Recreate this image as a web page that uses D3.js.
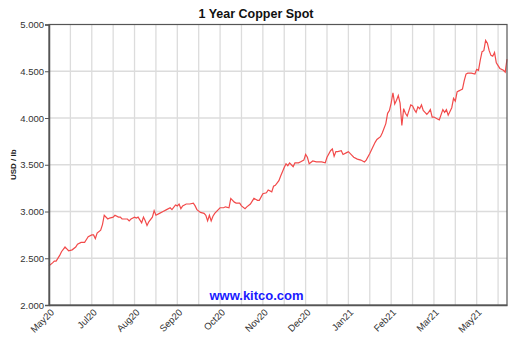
<!DOCTYPE html>
<html><head><meta charset="utf-8">
<script src="https://cdn.jsdelivr.net/npm/d3@7"></script>
<style>body{margin:0;background:#fff}svg{display:block}</style>
</head><body>
<script>
// trading-day index and copper spot price (USD/lb)
const dayIndex = [0,2,3,4,6,7,9,10,11,13,15,16,18,20,21,22,24,25,26,27,29,30,31,33,34,36,37,39,40,41,44,
45,46,48,49,50,52,53,54,55,56,58,59,60,62,64,66,68,69,71,72,73,74,75,77,79,81,82,83,85,87,88,89,90,91,92,93,95,96,98,99,101,102,104,105,107,108,110,111,113,115,117,118,120,122,123,125,126,127,129,130,132,
133,134,135,136,137,138,140,141,143,144,145,146,148,150,153,155,156,158,159,160,161,162,164,165,167,168,170,171,173,175,177,178,180,181,183,184,186,187,189,190,191,192,193,194,195,196,197,198,199,200,201,203,204,205,206,207,208,209,210,211,212,213,
214,215,216,218,219,221,222,223,224,226,227,228,229,230,231,232,233,234,235,237,239,240,241,242,243,244,245,246,247,248,249,250,251,252,253,255,256,257];
const price = [2.42,2.45,2.47,2.47,2.53,2.57,2.62,2.60,2.58,2.59,2.62,2.65,2.67,2.67,2.70,2.73,2.75,2.75,2.71,2.77,2.80,2.86,2.96,2.92,2.93,2.94,2.96,2.94,2.94,2.92,2.92,
2.90,2.92,2.94,2.93,2.94,2.88,2.94,2.90,2.85,2.89,2.94,3.01,2.96,2.98,3.00,3.02,3.04,3.02,3.07,3.06,3.08,3.03,3.06,3.08,3.08,3.09,3.06,3.02,2.99,2.98,2.96,2.90,2.96,2.90,2.95,2.98,3.02,3.04,3.04,3.05,3.04,3.14,3.10,3.09,3.09,3.06,3.03,3.05,3.08,3.14,3.12,3.12,3.19,3.20,3.23,3.21,3.27,3.28,3.33,3.38,3.47,
3.51,3.49,3.52,3.50,3.48,3.52,3.52,3.53,3.55,3.61,3.58,3.51,3.54,3.53,3.53,3.52,3.58,3.65,3.67,3.59,3.64,3.64,3.65,3.61,3.63,3.64,3.60,3.58,3.56,3.55,3.53,3.55,3.62,3.66,3.74,3.77,3.80,3.84,3.94,4.05,4.08,4.16,4.27,4.15,4.19,4.24,4.16,3.92,4.10,4.05,4.02,4.14,4.13,4.09,4.06,4.12,4.10,4.14,4.08,4.06,4.04,4.06,
4.09,4.01,4.01,3.99,3.98,4.09,4.06,4.09,4.03,4.11,4.21,4.18,4.28,4.29,4.30,4.31,4.40,4.47,4.48,4.48,4.47,4.52,4.51,4.62,4.71,4.72,4.83,4.80,4.72,4.67,4.66,4.70,4.59,4.56,4.53,4.51,4.49,4.63];
const xTickLabels = ["May20","Jul20","Aug20","Sep20","Oct20","Nov20","Dec20","Jan21","Feb21","Mar21","May21"];
const yTicks = [2.0,2.5,3.0,3.5,4.0,4.5,5.0];
const totalDays = 257, gridStep = 12, labelStep = 24;

const W = 522, H = 347;
const m = {l:49, r:15, t:24.5, b:42};
const svg = d3.select("body").append("svg").attr("width",W).attr("height",H);
const x = d3.scaleLinear().domain([0,totalDays]).range([m.l, W-m.r]);
const y = d3.scaleLinear().domain([2,5]).range([H-m.b, m.t]);
const font = "Arial, 'Liberation Sans', sans-serif";

// grid
const gridX = d3.range(gridStep, totalDays, gridStep);
svg.append("g").selectAll("line").data(gridX).join("line")
  .attr("x1",d=>x(d)).attr("x2",d=>x(d)).attr("y1",y(2)).attr("y2",y(5))
  .attr("stroke","#dcdcdc").attr("stroke-width",1.3);
svg.append("g").selectAll("line").data(yTicks.slice(1,-1)).join("line")
  .attr("x1",x(0)).attr("x2",x(totalDays)).attr("y1",d=>y(d)).attr("y2",d=>y(d))
  .attr("stroke","#dcdcdc").attr("stroke-width",1.3);

// line
const pts = dayIndex.map((d,i)=>[d,price[i]]);
svg.append("path").datum(pts)
  .attr("d", d3.line().x(d=>x(d[0])).y(d=>y(d[1])))
  .attr("fill","none").attr("stroke","#f24a4a").attr("stroke-width",1.2);

// frame
svg.append("rect").attr("x",x(0)).attr("y",y(5)).attr("width",x(totalDays)-x(0)).attr("height",y(2)-y(5))
  .attr("fill","none").attr("stroke","#555").attr("stroke-width",1.2);

// y axis
const ya = svg.append("g").attr("transform",`translate(${x(0)},0)`)
  .call(d3.axisLeft(y).tickValues(yTicks).tickFormat(d3.format(".3f")).tickSize(4).tickPadding(1));
ya.select(".domain").attr("stroke","#555").attr("stroke-width",1.5);
ya.selectAll(".tick line").attr("stroke","#555");
ya.selectAll("text").attr("font-family",font).attr("font-size",9.5).attr("fill","#333");

// x axis
const xa = svg.append("g").attr("transform",`translate(0,${y(2)})`)
  .call(d3.axisBottom(x).tickValues(d3.range(0, labelStep*xTickLabels.length, labelStep))
    .tickFormat((d,i)=>xTickLabels[i]).tickSize(0));
xa.select(".domain").attr("stroke","#555").attr("stroke-width",1.5);
xa.selectAll("text").attr("font-family",font).attr("font-size",9.5).attr("fill","#333")
  .attr("text-anchor","end").attr("dy",0).attr("dx",0)
  .attr("transform","translate(3,6) rotate(-45)");

// title
svg.append("text").attr("x",256).attr("y",18).attr("text-anchor","middle")
  .attr("font-family",font).attr("font-weight","bold").attr("font-size",12.5).attr("fill","#111")
  .text("1 Year Copper Spot");
svg.append("text").attr("transform",`translate(16,${(y(2)+y(5))/2}) rotate(-90)`)
  .attr("text-anchor","middle").attr("font-family",font).attr("font-weight","bold")
  .attr("font-size",8).attr("fill","#222").text("USD / lb");
svg.append("text").attr("x",256.5).attr("y",300).attr("text-anchor","middle")
  .attr("font-family",font).attr("font-weight","bold").attr("font-size",13).attr("fill","#1a1aff")
  .text("www.kitco.com");
</script>
</body></html>
